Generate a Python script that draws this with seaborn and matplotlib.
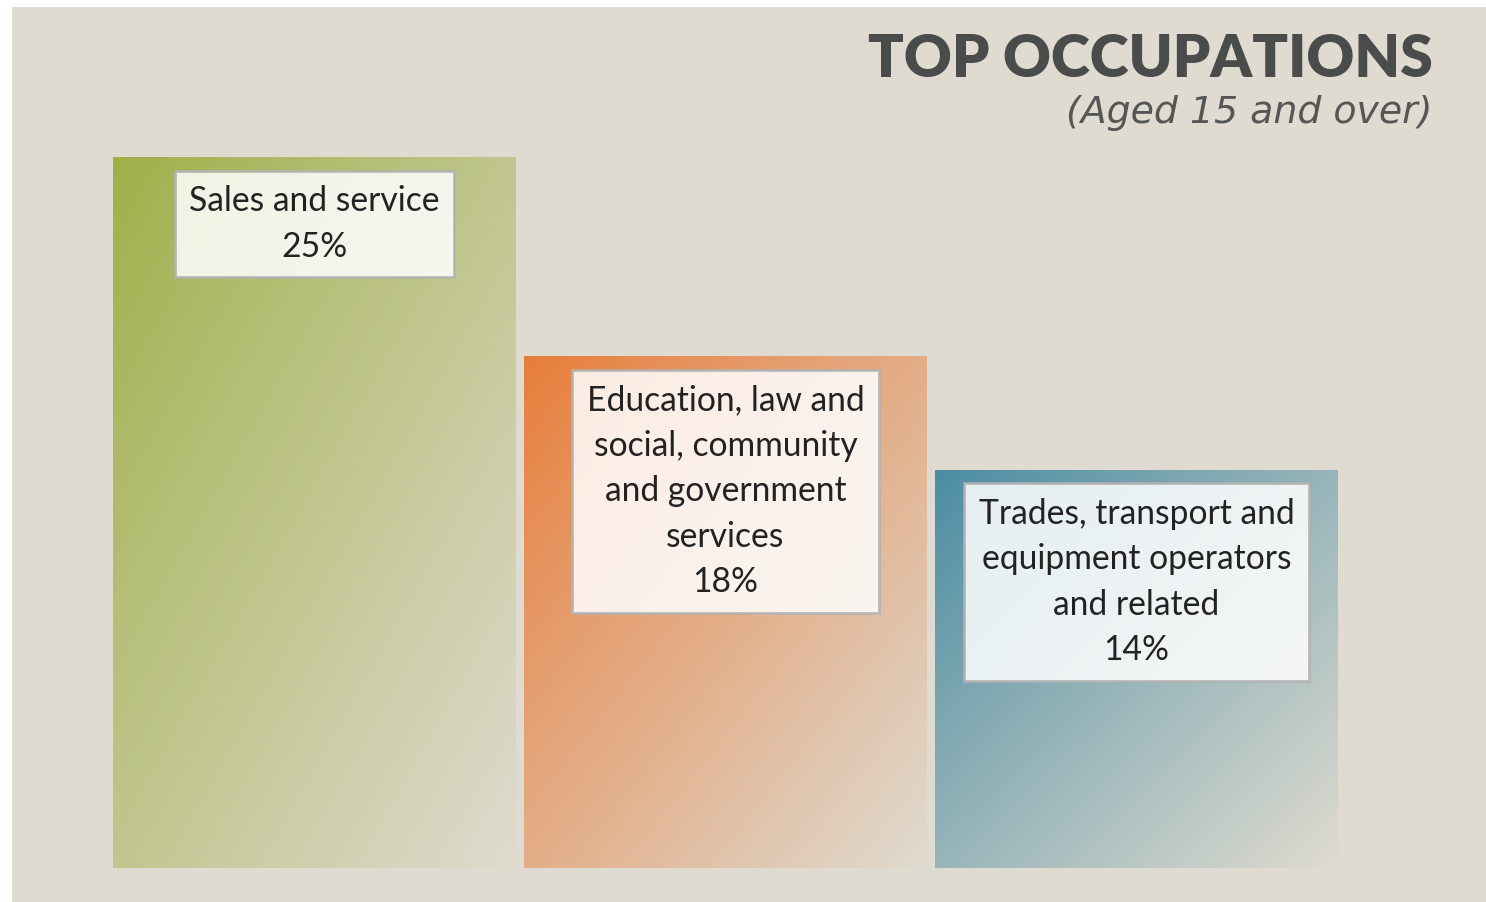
import numpy as np
import pandas as pd
import matplotlib
matplotlib.use("Agg")
import matplotlib.pyplot as plt
from matplotlib.colors import to_rgb
from matplotlib.patches import Rectangle
import seaborn as sns

# Occupation shares (%) for residents aged 15 and over
categories = ["Sales and service",
              "Education, law and\nsocial, community\nand government\nservices",
              "Trades, transport and\nequipment operators\nand related"]
shares = [25, 18, 14]
bar_colors = ["#9fb048", "#e87d3a", "#4a8ca2"]

BEIGE = "#dfdbd0"

sns.set_theme(style="white")
plt.rcParams["font.family"] = ["Lato", "DejaVu Sans"]

W, H = 1486, 902
fig = plt.figure(figsize=(W / 100, H / 100), dpi=100, facecolor="white")

# beige panel behind everything
fig.patches.append(Rectangle((12 / W, 0), 1 - 12 / W, 1 - 7 / H,
                             transform=fig.transFigure, facecolor=BEIGE,
                             edgecolor="none", zorder=-5))

ax = fig.add_axes([113 / W, (H - 868) / H, (1338 - 113) / W, (868 - 157) / H])
ax.set_facecolor("none")

df = pd.DataFrame({"category": categories, "share": shares})
sns.barplot(data=df, x="category", y="share", width=0.98, ax=ax,
            color="#999999", saturation=1, errorbar=None)

ax.set_xlim(-0.49, 2.49)
ax.set_ylim(0, 25)
ax.axis("off")

# diagonal gradient fill: strong colour at top-left, fading to beige bottom-right
beige = np.array(to_rgb(BEIGE))
n = 300
u = np.linspace(0, 1, n)[None, :]
v = np.linspace(0, 1, n)[:, None]
t = np.clip((u + v) / 2.0, 0, 1)
for patch, col, val, label in zip(ax.patches, bar_colors, shares, categories):
    c0 = np.array(to_rgb(col))
    img = c0[None, None, :] + (beige - c0)[None, None, :] * (t[..., None] ** 0.95)
    x0, y0 = patch.get_x(), patch.get_y()
    w, h = patch.get_width(), patch.get_height()
    im = ax.imshow(img, extent=[x0, x0 + w, y0, y0 + h], origin="upper",
                   aspect="auto", zorder=1, interpolation="bilinear")
    im.set_clip_path(patch)
    patch.set_facecolor("none")
    patch.set_edgecolor("none")

    ax.annotate(f"{label}\n{val}%", xy=(x0 + w / 2, val),
                xytext=(0, -28), textcoords="offset pixels",
                ha="center", va="top", fontsize=24.2, color="#222222",
                linespacing=1.52, zorder=5,
                bbox=dict(boxstyle="square,pad=0.43", facecolor="white",
                          alpha=0.85, edgecolor="#b0b0b0", linewidth=2))

ax.set_xlim(-0.49, 2.49)
ax.set_ylim(0, 25)

fig.text(1433 / W, 1 - 33 / H, "TOP OCCUPATIONS", ha="right", va="top",
         fontsize=42.5, fontweight="heavy", color="#4a4b4b")
fig.text(1433 / W, 1 - 95 / H, "(Aged 15 and over)", ha="right", va="top",
         fontsize=27.3, fontstyle="italic", color="#555656",
         family=["DejaVu Sans"])

fig.savefig("out.png", dpi=100, facecolor="white")
